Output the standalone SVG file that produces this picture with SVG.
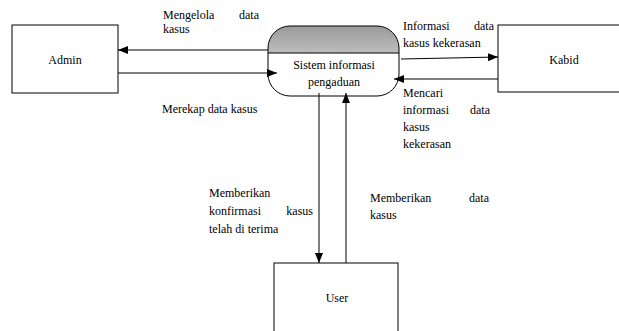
<svg xmlns="http://www.w3.org/2000/svg" width="619" height="331" viewBox="0 0 619 331">
<style>
.box{fill:#fff;stroke:#000;stroke-width:1}
text{font-family:"Liberation Serif","Times New Roman",serif;font-size:12px;fill:#000}
.c{text-anchor:middle}
.e{text-anchor:end}
.ln{stroke:#000;stroke-width:1;fill:none;marker-end:url(#ah)}
</style>
<defs>
<marker id="ah" markerWidth="10" markerHeight="8" refX="10" refY="4" orient="auto" markerUnits="userSpaceOnUse">
<path d="M0,0 L10,4 L0,8 Z" fill="#000"/>
</marker>
<linearGradient id="g" x1="0" y1="0" x2="0" y2="1">
<stop offset="0" stop-color="#9a9a9a"/>
<stop offset="1" stop-color="#f6f6f6"/>
</linearGradient>
<clipPath id="hc"><rect x="260" y="20" width="150" height="33"/></clipPath>
</defs>
<rect width="619" height="331" fill="#fff"/>
<g id="admin">
<rect class="box" x="12" y="25" width="106" height="68"/>
<text class="c" x="65" y="64">Admin</text>
</g>
<g id="kabid">
<rect class="box" x="498" y="25" width="130" height="67"/>
<text class="c" x="564" y="64">Kabid</text>
</g>
<g id="user">
<rect class="box" x="274" y="263" width="124" height="80"/>
<text class="c" x="337" y="302">User</text>
</g>
<g id="process">
<rect x="268" y="26" width="131" height="70" rx="22" ry="22" fill="#fff"/>
<rect x="268" y="26" width="131" height="70" rx="22" ry="22" fill="url(#g)" clip-path="url(#hc)"/>
<rect x="268" y="26" width="131" height="70" rx="22" ry="22" fill="none" stroke="#000"/>
<line x1="268" y1="53" x2="399" y2="53" stroke="#000"/>
<text class="c" x="334" y="69">Sistem informasi</text>
<text class="c" x="334" y="86">pengaduan</text>
</g>
<g id="connectors">
<line class="ln" x1="268" y1="50" x2="118" y2="50"/>
<line class="ln" x1="118" y1="73" x2="277" y2="73"/>
<line class="ln" x1="401" y1="59" x2="498" y2="57"/>
<line class="ln" x1="498" y1="79" x2="394" y2="79"/>
<line class="ln" x1="319" y1="93" x2="319" y2="263"/>
<line class="ln" x1="346" y1="263" x2="346" y2="93"/>
</g>
<g id="labels">
<text y="19"><tspan x="163">Mengelola</tspan> <tspan class="e" x="259">data</tspan></text>
<text x="163" y="33">kasus</text>
<text x="162" y="113">Merekap data kasus</text>
<text y="30"><tspan x="403">Informasi</tspan> <tspan class="e" x="494">data</tspan></text>
<text x="403" y="47">kasus kekerasan</text>
<text x="403" y="97">Mencari</text>
<text y="114"><tspan x="403">informasi</tspan> <tspan class="e" x="490">data</tspan></text>
<text x="403" y="131">kasus</text>
<text x="403" y="148">kekerasan</text>
<text x="209" y="197">Memberikan</text>
<text y="215"><tspan x="209">konfirmasi</tspan> <tspan class="e" x="313">kasus</tspan></text>
<text x="209" y="233">telah di terima</text>
<text y="202"><tspan x="370">Memberikan</tspan> <tspan class="e" x="489">data</tspan></text>
<text x="370" y="219">kasus</text>
</g>
</svg>
